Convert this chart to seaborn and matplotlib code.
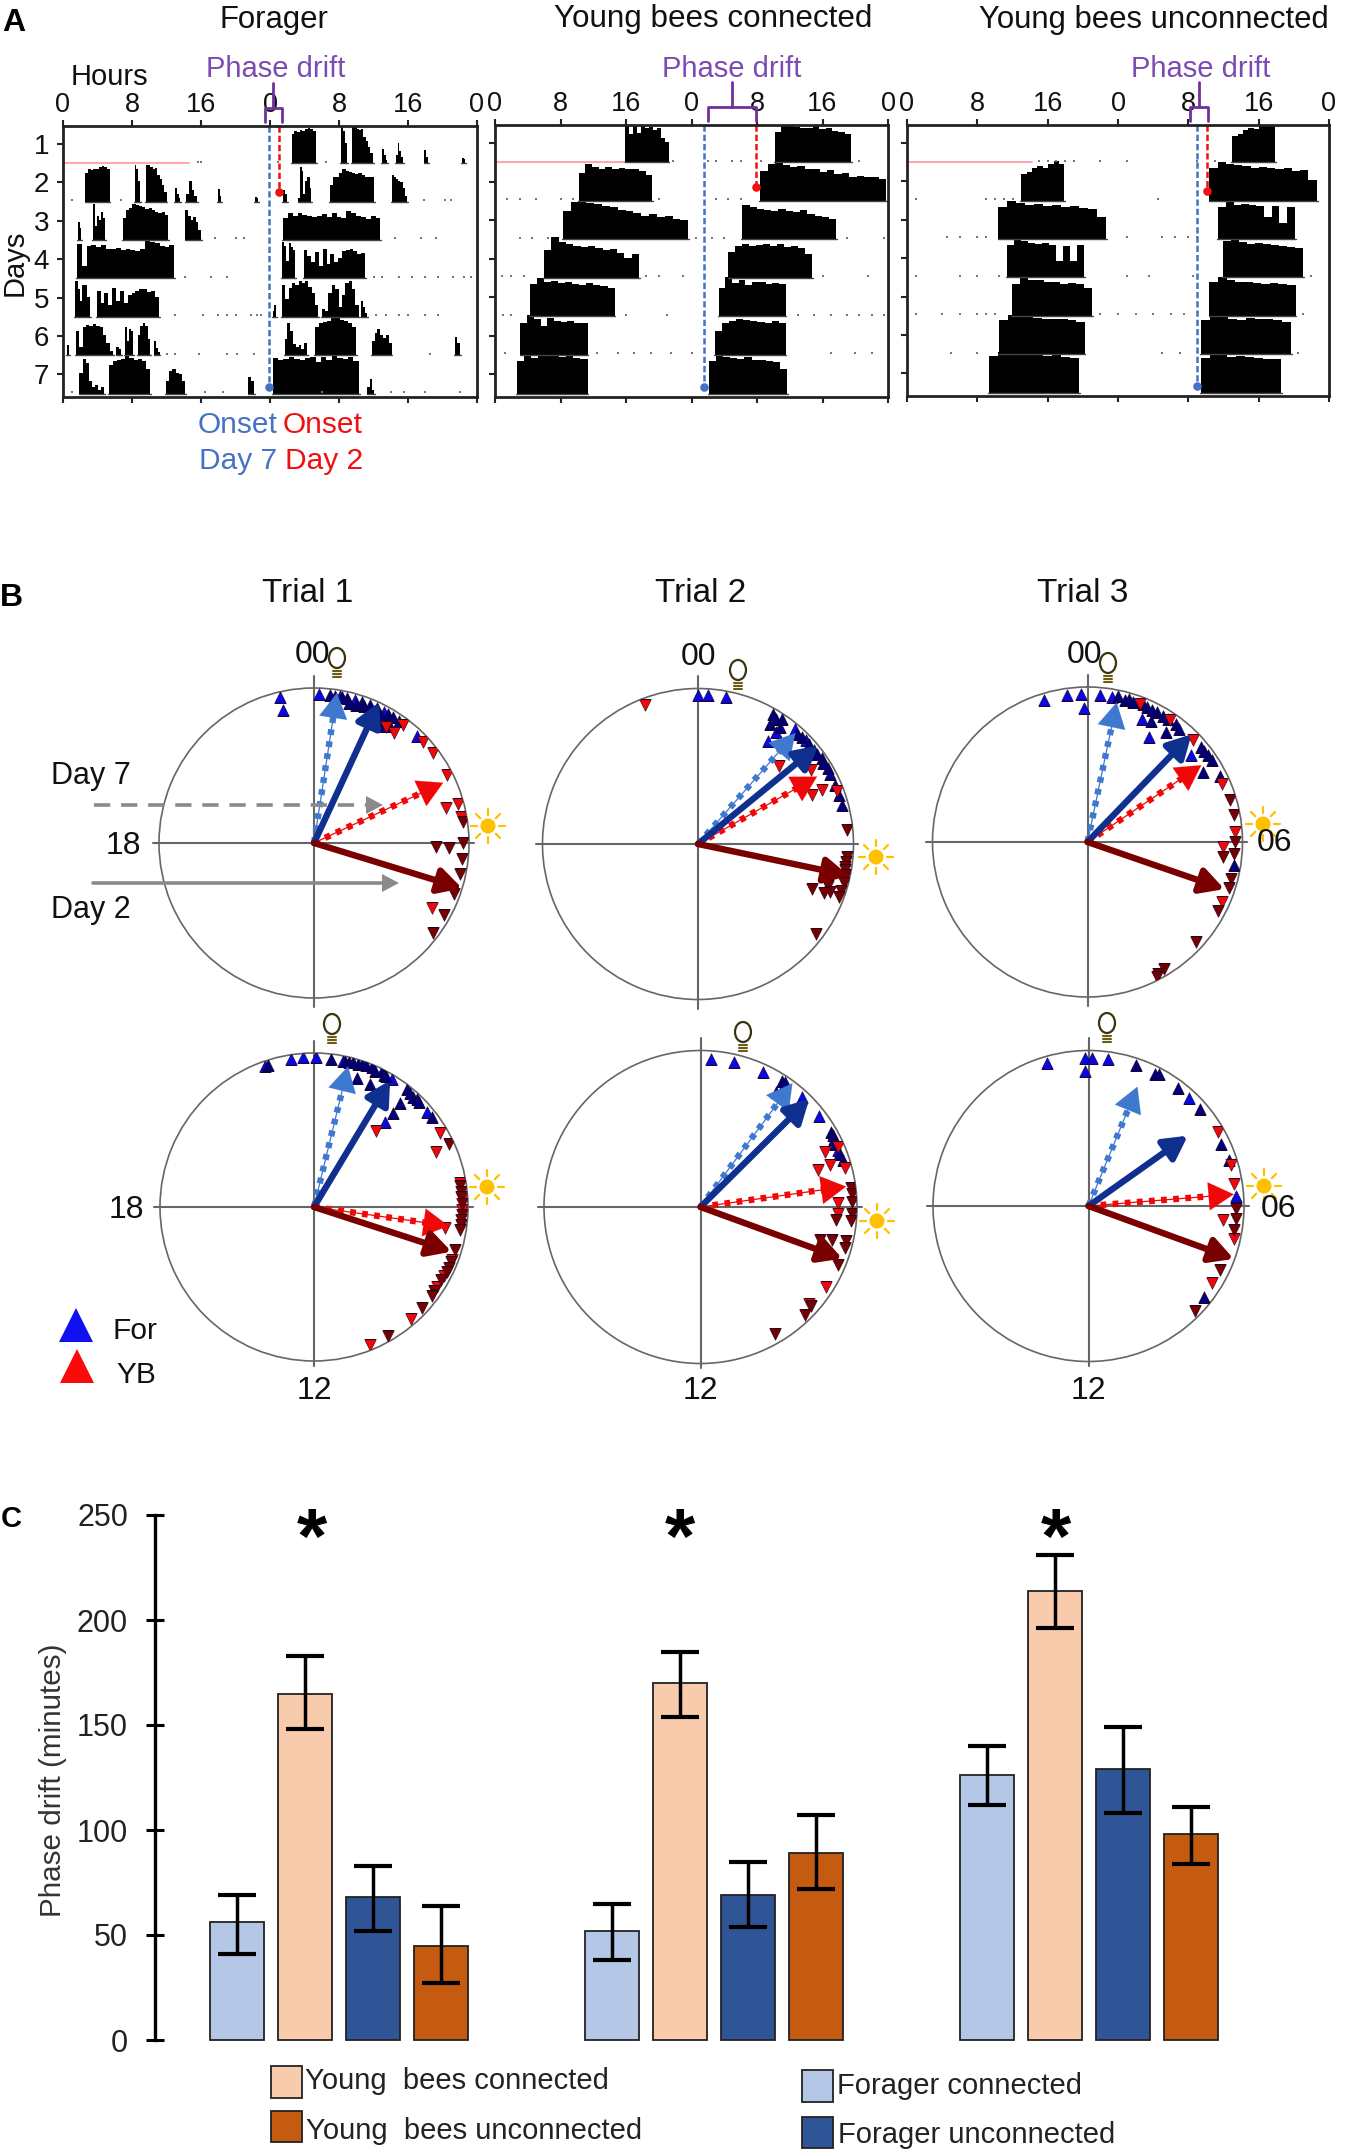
import numpy as np
import pandas as pd
import matplotlib
matplotlib.use("Agg")
import matplotlib.pyplot as plt
from matplotlib.patches import Rectangle, Circle, Ellipse
import seaborn as sns

W, H = 1350, 2155

# ---------- panel A: actograms, (day, start hour, end hour, activity heights) ----------
forager_bouts = [
    (1, 26.5, 29.3, [.72, .8, .78, .82, .8, .85, .88, .86, .8]),
    (1, 32.2, 32.9, [.92, .8, .5]),
    (1, 33.5, 35.9, [.92, .9, .86, .82, .84, .66, .55, .4, .25]),
    (1, 37.0, 37.6, [.35, .2, .08]),
    (1, 38.6, 39.4, [.2, .5, .3, .15]),
    (1, 41.9, 42.3, [.32, .15]),
    (1, 46.3, 46.6, [.12, .1]),
    (2, 2.6, 5.4, [.72, .8, .78, .82, .8, .85, .88, .86, .8]),
    (2, 8.3, 8.9, [.92, .8, .5]),
    (2, 9.6, 12.0, [.92, .9, .86, .82, .84, .66, .55, .4, .25]),
    (2, 13.0, 13.6, [.35, .2, .08]),
    (2, 14.3, 15.5, [.2, .5, .3, .15]),
    (2, 18.0, 18.3, [.32, .15]),
    (2, 22.3, 22.6, [.12, .1]),
    (2, 25.5, 26.0, [.3, .2]),
    (2, 27.3, 28.8, [.1, .85, .75, .2, .5, .6, .6, .35]),
    (2, 30.9, 36.1, [.4, .6, .62, .72, .8, .75, .74, .7, .68, .72, .66, .62, .6, .6]),
    (2, 38.1, 39.9, [.65, .6, .55, .5, .48, .35, .15]),
    (3, 1.75, 2.1, [.45, .3]),
    (3, 3.5, 4.9, [.9, .35, .6, .5, .7, .55]),
    (3, 6.9, 12.2, [.55, .75, .8, .9, .88, .85, .82, .78, .8, .74, .7, .68, .7, .62]),
    (3, 14.2, 16.0, [.75, .6, .5, .58, .45, .25]),
    (3, 25.5, 36.8, [.55, .66, .6, .68, .62, .6, .56, .6, .64, .58, .66, .58, .55, .72, .66, .6, .58, .52, .6, .55]),
    (4, 1.6, 12.9, [.85, .3, .8, .84, .78, .82, .74, .72, .76, .7, .74, .7, .68, .72, .98, .9, .88, .8, .78, .82]),
    (4, 25.4, 26.9, [.9, .8, .42, .88, .78, .7]),
    (4, 27.9, 35.0, [.7, .55, .4, .65, .3, .72, .35, .6, .4, .5, .68, .7, .72, .68, .6, .62]),
    (5, 1.4, 3.1, [.88, .7, .4, .78, .8, .5]),
    (5, 3.9, 11.1, [.65, .35, .6, .3, .72, .4, .65, .35, .55, .6, .65, .7, .68, .62, .65, .5]),
    (5, 24.3, 24.7, [.15, .3]),
    (5, 25.4, 29.6, [.8, .45, .72, .85, .78, .9, .84, .88, .75, .6, .3]),
    (5, 30.0, 34.3, [.2, .15, .6, .78, .7, .25, .55, .85, .9, .7, .3]),
    (5, 34.6, 35.3, [.4, .25, .1]),
    (6, 0.5, 0.7, [.25]),
    (6, 1.5, 5.8, [.6, .2, .7, .75, .72, .78, .72, .7, .5, .3, .1]),
    (6, 6.2, 6.7, [.2, .15]),
    (6, 7.2, 8.1, [.7, .35, .65, .6]),
    (6, 8.7, 10.1, [.5, .72, .8, .72, .4]),
    (6, 10.6, 11.2, [.35, .18, .08]),
    (6, 25.7, 28.3, [.4, .8, .6, .28, .2, .25, .15, .3]),
    (6, 29.2, 34.0, [.7, .8, .82, .85, .92, .98, .88, .84, .8, .7]),
    (6, 35.8, 38.1, [.35, .55, .65, .5, .42, .5, .3]),
    (6, 45.4, 46.0, [.45, .3]),
    (7, 1.9, 4.8, [.5, .85, .75, .3, .15, .22, .1, .16]),
    (7, 5.3, 10.1, [.72, .8, .84, .86, .92, .88, .84, .86, .8, .6]),
    (7, 11.9, 14.2, [.3, .55, .6, .5, .48, .3]),
    (7, 21.5, 22.2, [.4, .3]),
    (7, 24.3, 34.3, [.88, .82, .86, .9, .86, .84, .88, .9, .78, .9, .84, .95, .88, .86, .9, .8]),
    (7, 35.3, 36.1, [.15, .35, .1]),
]
forager_specks = [(1, 15.6), (1, 16.0), (1, 24.9), (1, 30.5), (2, 1.0), (2, 6.7), (2, 41.8), (2, 44.3), (2, 45.0),
                  (3, 17.6), (3, 20.0), (3, 21.0), (3, 38.5), (3, 41.5), (3, 43.2),
                  (4, 14.2), (4, 17.2), (4, 19.0), (4, 36.0), (4, 37.0), (4, 39.0), (4, 40.5), (4, 42.0), (4, 43.5), (4, 45.2), (4, 46.5), (4, 47.3),
                  (5, 13.0), (5, 16.2), (5, 18.0), (5, 19.0), (5, 20.0), (5, 21.8), (5, 22.5), (5, 23.0), (5, 36.3), (5, 37.5), (5, 39.0), (5, 40.0), (5, 42.0), (5, 43.5),
                  (6, 12.0), (6, 13.0), (6, 15.8), (6, 19.0), (6, 20.2), (6, 22.2), (6, 42.5),
                  (7, 1.0), (7, 16.5), (7, 18.5), (7, 30.0), (7, 38.0), (7, 39.5), (7, 42.0), (7, 46.0)]

young_conn_bouts = [
    (1, 15.9, 21.2, [.92, .7, .95, .72, .9, .85, .88, .8, .85, .6, .5]),
    (1, 34.2, 43.5, [.75, .95, 1.0, .88, .84, .86, .9, .82, .85, .78, .74, .7]),
    (2, 10.2, 19.2, [.7, .92, .85, .78, .84, .8, .82, .78, .8, .74, .65]),
    (2, 32.4, 47.8, [.75, .9, .95, .88, .84, .86, .78, .8, .72, .76, .66, .7, .6, .62, .58, .6, .55]),
    (3, 8.3, 23.6, [.7, .92, .95, .9, .88, .82, .8, .72, .7, .66, .58, .62, .55, .58, .5, .48]),
    (3, 30.2, 41.7, [.85, .8, .74, .72, .7, .74, .7, .68, .72, .62, .58, .55, .5]),
    (4, 6.0, 17.6, [.7, 1.0, .9, .85, .78, .76, .8, .74, .7, .72, .62, .5, .58]),
    (4, 28.5, 38.7, [.65, .8, .85, .78, .82, .84, .8, .84, .76, .8, .74, .6]),
    (5, 4.3, 14.6, [.8, .95, .86, .88, .82, .85, .8, .78, .82, .78, .76, .7]),
    (5, 27.3, 35.5, [.7, .98, .82, .9, .78, .85, .84, .8, .82, .8]),
    (6, 3.1, 11.3, [.8, .98, .9, .72, .92, .85, .82, .84, .8, .78]),
    (6, 26.9, 35.5, [.6, .8, .85, .9, .86, .84, .82, .8, .84, .78]),
    (7, 2.7, 11.3, [.8, .95, .88, .94, 1.0, .96, .9, .92, .88, .86]),
    (7, 26.1, 35.7, [.8, .95, .9, .88, .86, .9, .84, .82, .8, .78, .6]),
]
young_conn_specks = [(1, 21.8), (1, 26.0), (1, 27.0), (1, 29.0), (1, 30.0), (1, 32.5), (1, 44.5),
                     (2, 1.5), (2, 3.0), (2, 5.0), (2, 8.0), (2, 9.5), (2, 20.0), (2, 27.0), (2, 28.5), (2, 30.0),
                     (3, 3.0), (3, 4.5), (3, 6.5), (3, 24.5), (3, 26.5), (3, 28.0), (3, 43.0), (3, 47.5),
                     (4, 0.8), (4, 2.0), (4, 3.5), (4, 18.5), (4, 20.0), (4, 23.0), (4, 40.0), (4, 45.5),
                     (5, 1.0), (5, 2.0), (5, 16.0), (5, 21.0), (5, 25.5), (5, 37.0), (5, 39.0), (5, 41.0), (5, 43.0), (5, 44.5), (5, 46.0), (5, 47.5),
                     (6, 1.2), (6, 12.5), (6, 15.0), (6, 17.0), (6, 19.0), (6, 21.5), (6, 24.0), (6, 41.0), (6, 44.0), (6, 46.0)]

young_unc_bouts = [
    (1, 37.0, 41.9, [.65, .7, .8, .85, .82, .9, .98, 1.0]),
    (2, 13.0, 17.9, [.65, .7, .8, .85, .82, .9, .98, .9]),
    (2, 34.4, 46.6, [.8, .95, .9, .88, .85, .82, .84, .8, .78, .8, .74, .75, .5]),
    (3, 10.4, 22.6, [.8, .95, .9, .84, .86, .82, .84, .8, .82, .78, .74, .55]),
    (3, 35.4, 44.1, [.8, .92, .85, .88, .84, .82, .55, .82, .4, .8]),
    (4, 11.4, 20.1, [.8, .95, .9, .85, .82, .85, .8, .4, .78, .4, .8]),
    (4, 35.9, 45.0, [.9, .95, .88, .84, .85, .82, .8, .78, .76, .72]),
    (5, 11.9, 21.0, [.8, .95, .9, .88, .85, .84, .8, .82, .78, .7]),
    (5, 34.4, 44.2, [.85, .95, .88, .85, .84, .82, .8, .82, .78, .76]),
    (6, 10.5, 20.2, [.85, .98, .95, .92, .9, .88, .86, .88, .85, .8]),
    (6, 33.4, 43.7, [.85, .95, .92, .88, .85, .9, .86, .88, .84, .8]),
    (7, 9.3, 19.6, [.9, 1.0, .96, .94, .92, .94, .9, .92, .88, .85]),
    (7, 33.4, 42.5, [.85, .95, .92, .88, .9, .88, .86, .84, .82]),
]
young_unc_specks = [(1, 15.0), (1, 16.0), (1, 17.0), (1, 18.0), (1, 19.0), (1, 22.0), (1, 25.0), (1, 33.0), (1, 35.0),
                    (2, 1.0), (2, 9.0), (2, 10.0), (2, 11.0), (2, 12.0), (2, 28.5),
                    (3, 4.5), (3, 6.0), (3, 8.0), (3, 9.0), (3, 25.0), (3, 29.0), (3, 30.5), (3, 32.0), (3, 33.0),
                    (4, 1.0), (4, 6.0), (4, 8.0), (4, 10.5), (4, 25.0), (4, 27.5), (4, 32.5), (4, 46.0),
                    (5, 1.0), (5, 4.0), (5, 6.0), (5, 8.0), (5, 9.0), (5, 10.0), (5, 22.0), (5, 24.0), (5, 26.0), (5, 28.0), (5, 30.0), (5, 31.5), (5, 45.0),
                    (6, 5.0), (6, 8.0), (6, 29.0), (6, 31.0), (6, 44.5)]

# onset hours and bracket limits per actogram
onset_day7 = [23.9, 25.5, 33.0]
onset_day2 = [25.1, 31.9, 34.1]
pink_end = [14.6, 15.7, 14.2]
onset_dot_y = [2.25, 2.15, 2.25]
bracket_lo = [23.4, 26.0, 32.2]
bracket_hi = [25.4, 31.9, 34.2]
hour_ticks = [0, 8, 16, 24, 32, 40, 48]
hour_labels = ["0", "8", "16", "0", "8", "16", "0"]
days = [1, 2, 3, 4, 5, 6, 7]

# ---------- panel B: circular data, (degrees clockwise from 00, radius) ----------
p1_for_conn = [(-13, .97), (-13, .88), (2, .96), (10, .96), (16, .96), (28, .96), (44, .96)]
p1_for_unc = [(6, .96), (8, .96), (11, .96), (13, .96), (14, .93), (17, .93), (19, .96), (20, .94), (22, .96), (23, .9), (25, .96), (27, .9),
              (29, .9), (30, .96), (31, .88), (32, .96), (33, .9), (35, .96), (26, .87), (28, .92)]
p1_yb_conn = [(32, .88), (36, .88), (37, .95), (47, .96), (53, .96), (63, .96), (75, .88), (75, .96), (80, .96), (119, .87)]
p1_yb_unc = [(82, .97), (90, .96), (92, .87), (92, .79), (96, .96), (102, .96), (110, .96), (119, .96), (127, .96)]

p2_for_conn = [(0, .96), (4, .96), (11, .96), (35, .88), (34.5, .80), (40, .966), (46, .967)]
p2_for_unc = [(30, .965), (31, .9), (32, .95), (33.7, .97), (35, .92), (42, .95), (44, .96), (48, .96), (51, .963), (53, .96), (55.3, .97),
              (57, .96), (59.7, .967), (62, .96), (66.6, .96), (71, .96), (74.9, .957)]
p2_yb_conn = [(-21, .956), (46, .72), (56.8, .87), (66.6, .796), (66.5, .87), (69, .96)]
p2_yb_unc = [(84.6, .96), (95, .96), (97, .96), (99, .96), (100, .96), (102, .97), (105, .97), (108, .97), (108, .88), (110, .9),
             (110.6, .967), (111.8, .787), (111.4, .87), (127.5, .953)]

p3_for_conn = [(-17, .956), (-7.8, .955), (-2.4, .953), (-1.3, .867), (5, .95), (9.7, .95), (23.8, .87), (30.4, .785), (50, .87)]
p3_for_unc = [(12, .96), (14.6, .95), (16, .96), (18, .95), (22, .96), (24, .95), (25.9, .95), (28, .95), (31, .95), (33, .95), (36.8, .95), (39, .94),
              (27.9, .88), (35.6, .87), (50, .957), (52, .95), (54, .96), (56.8, .962), (63.4, .958), (58.7, .87), (99, .96)]
p3_yb_conn = [(20.8, .95), (34, .95), (46, .95), (66.6, .946), (86, .953), (92, .875), (114, .95)]
p3_yb_unc = [(73.4, .956), (79.7, .96), (90, .95), (94.5, .95), (96.5, .88), (104.3, .956), (108, .958), (118, .953), (132.6, .952), (149, .953), (151.8, .964), (152.8, .978)]

p4_for_conn = [(-19, .97), (-8.7, .972), (-4.2, .974), (.9, .976), (11.3, .968), (31.3, .97), (50, .955), (39.8, .72)]
p4_for_unc = [(-18, .97), (6.4, .97), (12, .97), (13.5, .97), (15, .975), (17, .97), (18.4, .978), (20, .98), (22.4, .98), (24, .97), (26.4, .988), (28, .97), (29, .97),
              (18.2, .885), (24.5, .877), (38.2, .975), (40, .97), (42, .96), (43.6, .967), (45, .96), (52.8, .963), (39.5, .875), (39.8, .797)]
p4_yb_conn = [(39.2, .635), (59.6, .95), (65.8, .87), (80.6, .96), (87, .96), (91, .96), (99, .86), (111, .96), (118, .955), (123, .95), (139, .965), (158, .965)]
p4_yb_unc = [(65, .965), (82, .96), (84, .96), (86, .96), (89, .96), (93, .96), (95, .96), (97, .96), (99, .96), (107, .96), (112, .96), (114.5, .96), (116, .96),
             (120, .95), (125, .95), (127, .96), (133, .96), (150, .965)]

p5_for_conn = [(4.2, .95), (13, .953), (25, .949), (40, .854), (42.6, .957), (52.6, .955), (67.6, .95)]
p5_for_unc = [(33, .96), (34, .96), (33.2, .88), (60, .96), (61.5, .96), (63, .96), (65, .95), (69, .95), (71.9, .96)]
p5_yb_conn = [(66, .868), (66.3, .96), (72, .87), (72.4, .79), (75, .956), (88.4, .88), (93, .88), (122.7, .95), (131.7, .93)]
p5_yb_unc = [(82.6, .967), (85, .97), (88, .97), (92.5, .97), (95.6, .873), (95.5, .965), (104.2, .87), (105.7, .79), (103, .955), (106, .96), (113, .955), (131.7, .947), (136, .962), (149.6, .94)]

p6_for_conn = [(-16, .957), (-1.2, .953), (1.2, .953), (7.5, .952), (-1.6, .87), (42.8, .95), (86.3, .953)]
p6_for_unc = [(18.8, .957), (26.5, .952), (28, .96), (37.3, .95), (48.8, .951), (65, .942), (72, .95), (128, .946)]
p6_yb_conn = [(60.2, .957), (74, .953), (81.3, .948), (96, .87), (102.7, .957), (122, .94)]
p6_yb_unc = [(91, .951), (95, .95), (99.5, .947), (116, .943), (134.5, .959)]

# mean vectors (degrees, length) per panel
vec_for_conn = [(8.7, .98), (41.3, .95), (11.8, .92), (13.6, .94), (36.6, .985), (22.3, .83)]
vec_for_unc = [(24.8, .99), (50.7, .99), (44, .957), (31, .95), (45.2, .97), (54.7, .775)]
vec_yb_conn = [(65, .92), (60.5, .88), (56, .886), (98, .883), (82, .94), (85.4, .937)]
vec_yb_unc = [(107, .99), (101.8, .98), (109, .925), (108, .93), (110, .955), (110, .984)]

panel_for_conn = [p1_for_conn, p2_for_conn, p3_for_conn, p4_for_conn, p5_for_conn, p6_for_conn]
panel_for_unc = [p1_for_unc, p2_for_unc, p3_for_unc, p4_for_unc, p5_for_unc, p6_for_unc]
panel_yb_conn = [p1_yb_conn, p2_yb_conn, p3_yb_conn, p4_yb_conn, p5_yb_conn, p6_yb_conn]
panel_yb_unc = [p1_yb_unc, p2_yb_unc, p3_yb_unc, p4_yb_unc, p5_yb_unc, p6_yb_unc]

# ---------- panel C ----------
trials = ["Trial 1", "Trial 2", "Trial 3"]
groups = ["Forager connected", "Young bees connected", "Forager unconnected", "Young bees unconnected"]
drift_for_conn = [56, 52, 126]
drift_yb_conn = [165, 170, 214]
drift_for_unc = [68, 69, 129]
drift_yb_unc = [45, 89, 98]
low_for_conn = [41, 38, 112]
low_yb_conn = [148, 154, 196]
low_for_unc = [52, 54, 108]
low_yb_unc = [27, 72, 84]
high_for_conn = [69, 65, 140]
high_yb_conn = [183, 185, 231]
high_for_unc = [83, 85, 149]
high_yb_unc = [64, 107, 111]

sns.set_theme(style="white")
plt.rcParams["font.family"] = ["Liberation Sans", "DejaVu Sans"]
fig = plt.figure(figsize=(W / 100, H / 100), dpi=100, facecolor="white")


def px_axes(x0, y0, x1, y1, **kw):
    return fig.add_axes([x0 / W, 1 - y1 / H, (x1 - x0) / W, (y1 - y0) / H], **kw)


PURPLE = "#7030a0"
ONSET_BLUE = "#4472c4"
ONSET_RED = "#f01010"

# actograms
acto_boxes = [(63, 126, 477, 397), (495, 125, 888, 397), (907, 125, 1329, 396)]
acto_bouts = [forager_bouts, young_conn_bouts, young_unc_bouts]
acto_specks = [forager_specks, young_conn_specks, young_unc_specks]
for i, box in enumerate(acto_boxes):
    ax = px_axes(*box)
    for day, start, end, heights in acto_bouts[i]:
        edges = np.linspace(start, end, len(heights) + 1)
        tops = np.array(list(heights) + [heights[-1]]) * 1.05
        ax.fill_between(edges, day + .5 - tops, day + .5, step="post", color="black", lw=0)
        ax.plot([start - .1, end + .1], [day + .5, day + .5], color="#444444", lw=1)
    specks = np.array(acto_specks[i])
    ax.scatter(specks[:, 1], specks[:, 0] + .46, s=3, color="#777777", marker="s", lw=0)
    ax.plot([0, pink_end[i]], [1.5, 1.5], color="#ffa8b0", lw=1.5)

    ax.plot([onset_day7[i]] * 2, [.53, 7.33], color=ONSET_BLUE, lw=1.8, ls=(0, (2.5, 1.2)))
    ax.plot([onset_day2[i]] * 2, [.53, onset_dot_y[i]], color=ONSET_RED, lw=1.8, ls=(0, (2.5, 1.2)))
    ax.scatter([onset_day7[i]], [7.33], s=38, color=ONSET_BLUE, zorder=5, lw=0)
    ax.scatter([onset_day2[i]], [onset_dot_y[i]], s=38, color=ONSET_RED, zorder=5, lw=0)

    lo, hi = bracket_lo[i], bracket_hi[i]
    mid = (lo + hi) / 2
    ax.plot([lo, lo, hi, hi], [.42, .07, .07, .42], color=PURPLE, lw=2, clip_on=False, zorder=6)
    ax.plot([mid, mid], [.07, -.58], color=PURPLE, lw=2, clip_on=False, zorder=6)

    ax.set_xlim(0, 48)
    ax.set_ylim(7.59, .53)
    ax.set_xticks(hour_ticks)
    ax.set_xticklabels(hour_labels, fontsize=19.5, color="#111111")
    ax.set_yticks(days)
    ax.set_yticklabels([str(d) for d in days] if i == 0 else [], fontsize=20, color="#111111")
    ax.tick_params(axis="x", top=True, bottom=True, labeltop=True, labelbottom=False, length=4, width=1.5, pad=2, color="#222222")
    ax.tick_params(axis="y", left=True, length=4, width=1.5, pad=6, color="#222222")
    for side in ax.spines:
        ax.spines[side].set_visible(True)
        ax.spines[side].set_color("#222222")
        ax.spines[side].set_linewidth(2)

# circular plots
polar_centers = [(314, 843, 155), (698, 844, 155.5), (1087.5, 842, 155),
                 (314, 1207, 154), (700.5, 1207, 156.5), (1088.5, 1206, 155.5)]
DOT_BLUE = "#3f78cf"
series_styles = [("#0808e0", "^"), ("#000078", "^"), ("#f00808", "v"), ("#740000", "v")]
vector_styles = [(vec_for_conn, DOT_BLUE, True), (vec_for_unc, "#10308f", False),
                 (vec_yb_conn, "#f00808", True), (vec_yb_unc, "#7a0000", False)]
for n, (cx, cy, rad) in enumerate(polar_centers):
    ax = px_axes(cx - rad, cy - rad, cx + rad, cy + rad, projection="polar")
    ax.set_theta_zero_location("N")
    ax.set_theta_direction(-1)
    ax.grid(False)
    ax.set_xticks([])
    ax.set_yticks([])
    ax.spines["polar"].set_color("#666666")
    ax.spines["polar"].set_linewidth(1.2)
    ax.patch.set_alpha(0)

    ax.plot([0, 0], [0, 1.08], color="#666666", lw=1.5, clip_on=False)
    ax.plot([np.pi, np.pi], [0, 1.06 if n < 3 else 1.03], color="#666666", lw=1.5, clip_on=False)
    ax.plot([np.pi / 2, np.pi / 2], [0, 1.03], color="#666666", lw=1.5, clip_on=False)
    ax.plot([-np.pi / 2, -np.pi / 2], [0, 1.04], color="#666666", lw=1.5, clip_on=False)

    marks = [panel_for_conn[n], panel_for_unc[n], panel_yb_conn[n], panel_yb_unc[n]]
    for pts, (col, mk) in zip(marks, series_styles):
        pts = np.array(pts)
        sns.scatterplot(x=np.deg2rad(pts[:, 0]), y=pts[:, 1], ax=ax, color=col, marker=mk, s=70,
                        edgecolor="#200020", linewidth=.4, legend=False, zorder=3)
    ax.set_xlabel("")
    ax.set_ylabel("")
    ax.set_ylim(0, 1)

    for vec, col, dotted in vector_styles:
        deg, length = vec[n]
        th = np.deg2rad(deg)
        if dotted:
            ax.plot([th, th], [0, length * .88], color=col, lw=.9, zorder=4)
            ax.plot([th, th], [0, length * .88], color=col, lw=4.6, ls=(0, (.9, 1.0)), zorder=4)
            style = dict(arrowstyle="-|>,head_length=0.75,head_width=0.42", mutation_scale=24, lw=.1)
            ax.annotate("", xy=(th, length), xytext=(th, length * .8),
                        arrowprops=dict(color=col, shrinkA=0, shrinkB=0, **style), zorder=5)
        else:
            style = dict(arrowstyle="-|>,head_length=0.7,head_width=0.38", mutation_scale=20, lw=4.6)
            ax.annotate("", xy=(th, length * 1.01), xytext=(th, 0),
                        arrowprops=dict(color=col, shrinkA=0, shrinkB=0, **style), zorder=5)

# bars
ax = px_axes(155, 1515, 1300, 2040)
bar_df = pd.DataFrame({
    "trial": trials * 4,
    "group": np.repeat(groups, 3),
    "drift": drift_for_conn + drift_yb_conn + drift_for_unc + drift_yb_unc,
})
bar_colors = ["#b4c7e7", "#f8cbad", "#2f5597", "#c55a11"]
sns.barplot(data=bar_df, x="trial", y="drift", hue="group", hue_order=groups, palette=bar_colors,
            saturation=1, width=.725, gap=.2, edgecolor="#222222", linewidth=1.3, errorbar=None, legend=False, ax=ax)
lows = [low_for_conn, low_yb_conn, low_for_unc, low_yb_unc]
highs = [high_for_conn, high_yb_conn, high_for_unc, high_yb_unc]
for cont, low, high in zip(ax.containers, lows, highs):
    for bar, lo, hi in zip(cont.patches, low, high):
        bar.set_clip_on(False)
        xc = bar.get_x() + bar.get_width() / 2
        mid = bar.get_height()
        ax.errorbar(xc, mid, yerr=[[mid - lo], [hi - mid]], color="black", lw=2.5, capsize=14, capthick=3, zorder=5, clip_on=False)
ax.set_xlim((155 - 339) / 375, (1300 - 339) / 375)
ax.set_ylim(0, 250)
ax.set_xticks([])
ax.set_yticks([0, 50, 100, 150, 200, 250])
ax.tick_params(axis="y", left=True, direction="inout", length=13, width=2.2, labelsize=22, labelcolor="#222222", pad=13, color="black")
ax.set_xlabel("")
ax.set_ylabel("")
for side in ["top", "right", "bottom"]:
    ax.spines[side].set_visible(False)
ax.spines["left"].set_color("black")
ax.spines["left"].set_linewidth(2.4)
ax.patch.set_alpha(0)

# overlay in pixel coordinates for labels and icons
ov = fig.add_axes([0, 0, 1, 1], zorder=20)
ov.set_xlim(0, W)
ov.set_ylim(H, 0)
ov.axis("off")


def txt(x, y, s, size=20, color="#111111", **kw):
    kw.setdefault("ha", "center")
    kw.setdefault("va", "center")
    ov.text(x, y + 3, s, fontsize=size, color=color, **kw)


def sun(x, y):
    for a in np.deg2rad(np.arange(0, 360, 45)):
        ov.plot([x + 11 * np.cos(a), x + 17 * np.cos(a)], [y + 11 * np.sin(a), y + 17 * np.sin(a)], color="#ffc000", lw=1.6)
    ov.add_patch(Circle((x, y), 7.5, color="#ffc000", lw=0))


def bulb(x, y):
    ov.add_patch(Ellipse((x, y - 5), 16, 20, fc="white", ec="#3a3410", lw=1.6))
    for dy in [8, 11, 14]:
        ov.plot([x - 4, x + 4], [y + dy, y + dy], color="#6a5c10", lw=1.5)


txt(14, 20, "A", 23, "black", fontweight="bold")
txt(11, 595, "B", 23, "black", fontweight="bold")
txt(11, 1516, "C", 21, "black", fontweight="bold")

txt(274, 17, "Forager", 22.4)
txt(713, 16, "Young bees connected", 22.6)
txt(1154, 17, "Young bees unconnected", 22.4)
txt(109, 74, "Hours", 21)
txt(15, 260, "Days", 21, rotation=90)
for x in [276, 732, 1201]:
    txt(x, 66, "Phase drift", 21, "#7b4bb3")
txt(238, 422, "Onset", 21.5, ONSET_BLUE)
txt(323, 422, "Onset", 21.5, ONSET_RED)
txt(238, 458, "Day 7", 21.5, ONSET_BLUE)
txt(324, 458, "Day 2", 21.5, ONSET_RED)

for x, s in zip([308, 701, 1083], ["Trial 1", "Trial 2", "Trial 3"]):
    txt(x, 591, s, 24)
txt(312, 652, "00", 23)
txt(698, 654, "00", 23)
txt(1085, 652, "00", 23)
txt(123, 843, "18", 23)
txt(126, 1207, "18", 23)
txt(1275, 840, "06", 23)
txt(1279, 1206, "06", 23)
txt(314, 1388, "12", 23)
txt(700, 1388, "12", 23)
txt(1088, 1388, "12", 23)
txt(91, 773, "Day 7", 22)
txt(91, 907, "Day 2", 22)
txt(135, 1328, "For", 21.5)
txt(136, 1372, "YB", 21.5)

ov.plot([94, 367], [805, 805], color="#8a8a8a", lw=2.6, ls=(0, (4.5, 3)))
ov.fill([383, 366, 366], [805, 796, 814], color="#8a8a8a", lw=0)
ov.plot([93, 382], [883, 883], color="#8a8a8a", lw=2.6)
ov.fill([399, 382, 382], [883, 874, 892], color="#8a8a8a", lw=0)

for x, y in [(488, 826), (876, 857), (1263, 824), (487, 1187), (877, 1221), (1264, 1186)]:
    sun(x, y)
for x, y in [(337, 663), (738, 675), (1108, 668), (332, 1029), (743, 1037), (1107, 1028)]:
    bulb(x, y)

ov.fill([59, 76, 93], [1342, 1308, 1342], color="#1010f0", lw=0)
ov.fill([60, 77, 94], [1383, 1349, 1383], color="#fa0a0a", lw=0)

for x in [312, 680, 1056]:
    txt(x, 1539, "*", 56, "black", fontweight="bold")
txt(53, 1777, "Phase drift (minutes)", 21.3, "#333333", rotation=90)

swatches = [(271, 2066, 2098, "#f8cbad", "Young  bees connected", 305, 2078),
            (271, 2111, 2142, "#c55a11", "Young  bees unconnected", 306, 2128),
            (802, 2070, 2102, "#b4c7e7", "Forager connected", 837, 2083),
            (802, 2117, 2148, "#2f5597", "Forager unconnected", 838, 2132)]
for x0, y0, y1, col, label, tx, ty in swatches:
    ov.add_patch(Rectangle((x0, y0), 31, y1 - y0, fc=col, ec="#222222", lw=1.3))
    txt(tx, ty, label, 21, "#222222", ha="left")

fig.savefig("out.png", dpi=100, facecolor="white")
